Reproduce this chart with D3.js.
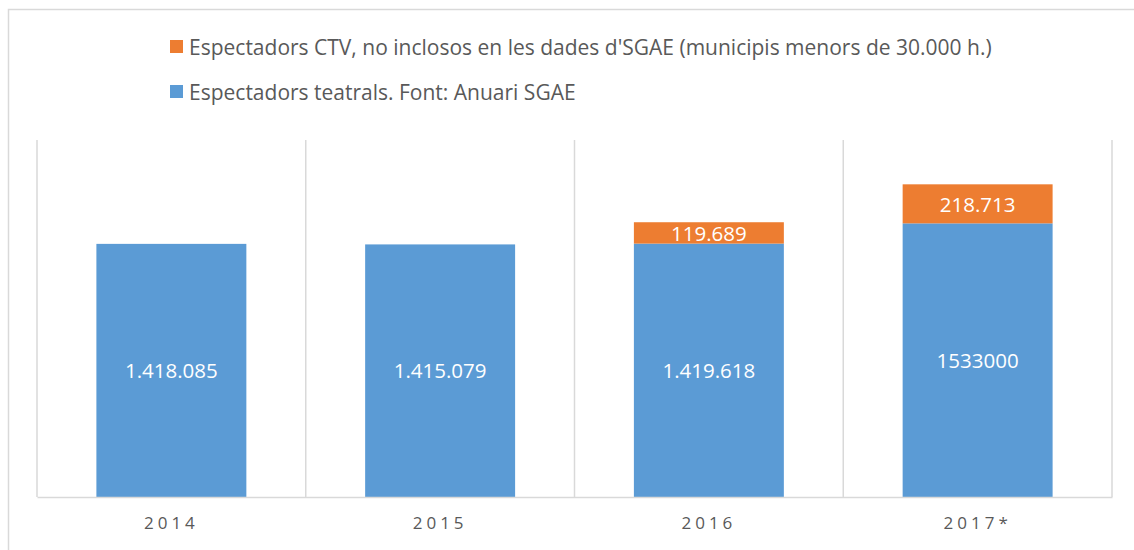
<!DOCTYPE html>
<html><head><meta charset="utf-8">
<script src="https://cdn.jsdelivr.net/npm/d3@7"></script>
<style>body{margin:0;background:#fff}svg{display:block}</style>
</head><body>
<svg id="c" width="1134" height="550"></svg>
<script>
const categories = ["2014", "2015", "2016", "2017*"];
const teatrals = [1418085, 1415079, 1419618, 1533000];
const ctv = [null, null, 119689, 218713];
const teatralsLabels = ["1.418.085", "1.415.079", "1.419.618", "1533000"];
const ctvLabels = [null, null, "119.689", "218.713"];
const seriesNames = ["Espectadors CTV, no inclosos en les dades d'SGAE (municipis menors de 30.000 h.)", "Espectadors teatrals. Font: Anuari SGAE"];
const colors = ["#ED7D31", "#5B9BD5"];
const yMax = 2000000;

const svg = d3.select("#c");
const font = "'Open Sans', 'Noto Sans', sans-serif";
svg.append("rect").attr("x", 8.5).attr("y", 9.5).attr("width", 1140).attr("height", 560)
  .attr("fill", "#fff").attr("stroke", "#d9d9d9").attr("stroke-width", 1.5);

const m = {l: 37, r: 1112, t: 140, b: 497};
const x = d3.scaleBand().domain(categories).range([m.l, m.r]).paddingInner(0.442).paddingOuter(0.221);
const xs = d3.scaleBand().domain(categories).range([m.l, m.r]);
const y = d3.scaleLinear().domain([0, yMax]).range([m.b, m.t]);

// gridlines
svg.append("g").selectAll("line").data(d3.range(categories.length + 1)).join("line")
  .attr("x1", i => m.l + i * xs.step()).attr("x2", i => m.l + i * xs.step())
  .attr("y1", m.t).attr("y2", m.b).attr("stroke", "#d9d9d9").attr("stroke-width", 1.5);

// bars
const g = svg.append("g");
categories.forEach((c, i) => {
  g.append("rect").attr("x", x(c)).attr("width", x.bandwidth())
    .attr("y", y(teatrals[i])).attr("height", y(0) - y(teatrals[i])).attr("fill", colors[1]);
  g.append("text").attr("x", x(c) + x.bandwidth() / 2).attr("y", (y(teatrals[i]) + y(0)) / 2)
    .attr("dy", "0.38em").attr("text-anchor", "middle").attr("fill", "#fff")
    .attr("font-family", font).attr("font-size", 20.5).text(teatralsLabels[i]);
  if (ctv[i] != null) {
    const top = y(teatrals[i] + ctv[i]);
    g.append("rect").attr("x", x(c)).attr("width", x.bandwidth())
      .attr("y", top).attr("height", y(teatrals[i]) - top).attr("fill", colors[0]);
    g.append("text").attr("x", x(c) + x.bandwidth() / 2).attr("y", (top + y(teatrals[i])) / 2)
      .attr("dy", "0.38em").attr("text-anchor", "middle").attr("fill", "#fff")
      .attr("font-family", font).attr("font-size", 20.5).text(ctvLabels[i]);
  }
});

// x axis
const ax = svg.append("g").attr("transform", `translate(0,${m.b})`).call(d3.axisBottom(xs).tickSize(0).tickPadding(20));
ax.select(".domain").attr("stroke", "#d9d9d9").attr("stroke-width", 1.5);
ax.selectAll("text").attr("font-family", font).attr("font-size", 17).attr("fill", "#595959")
  .attr("letter-spacing", "4px");

// legend
const leg = svg.append("g");
seriesNames.forEach((n, i) => {
  const yy = 47 + i * 45;
  leg.append("rect").attr("x", 170).attr("y", yy - 7).attr("width", 13).attr("height", 13).attr("fill", colors[i]);
  leg.append("text").attr("x", 189).attr("y", yy).attr("dy", "0.36em")
    .attr("font-family", font).attr("font-size", 21).attr("fill", "#595959").text(n);
});
</script>
</body></html>
